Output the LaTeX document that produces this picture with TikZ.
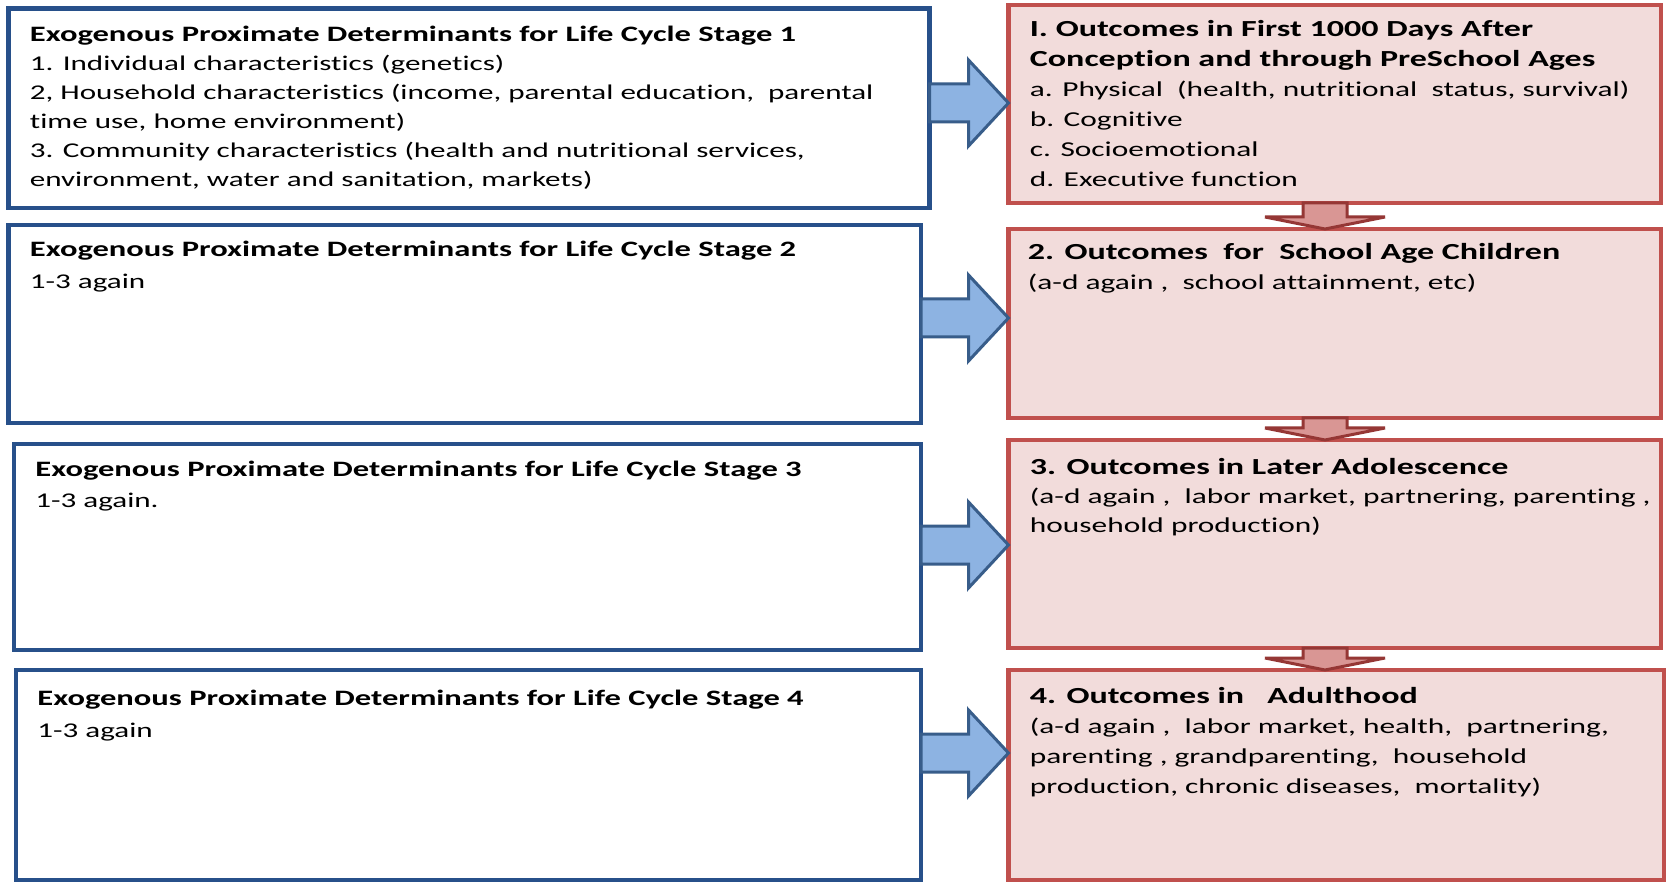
\documentclass[tikz,border=0pt]{standalone}
\usepackage{fontspec}
\setmainfont{Carlito}[FakeStretch=1.48, Ligatures=NoCommon]
\usetikzlibrary{calc,positioning}

\definecolor{detline}{HTML}{27508A}
\definecolor{feedline}{HTML}{385D8A}
\definecolor{feedfill}{HTML}{8DB3E2}
\definecolor{outline}{HTML}{C0504D}
\definecolor{outfill}{HTML}{F2DCDB}
\definecolor{stageline}{HTML}{953735}
\definecolor{stagefill}{HTML}{D99694}

% box text: first row sits on the node's base line
\newcommand{\boxlines}[1]{\begin{tabular}[t]{@{}l@{}}#1\end{tabular}}
\newcommand{\dethead}[1]{{\bfseries\fontsize{11}{14}\selectfont #1}}
\newcommand{\outhead}[1]{{\bfseries\fontsize{11.5}{14}\selectfont #1}}

\begin{document}
\begin{tikzpicture}[x=0.5pt, y=-0.5pt,
    detbox/.style={rectangle, draw=detline, line width=2.2pt, fill=white, inner sep=0pt, outer sep=0pt},
    outbox/.style={rectangle, draw=outline, line width=2.4pt, fill=outfill, inner sep=0pt, outer sep=0pt},
    dettext/.style={anchor=base west, inner sep=0pt, font=\fontsize{10.5}{14.5}\selectfont},
    outtext/.style={anchor=base west, inner sep=0pt, font=\fontsize{10.6}{15}\selectfont},
    feedarrow/.style={draw=feedline, line width=1.5pt, fill=feedfill, line join=miter,
        to path={($(\tikztostart)+(0,-19)$) -- ($(\tikztotarget)+(-40,-19)$) -- ($(\tikztotarget)+(-40,-43)$)
            -- (\tikztotarget) -- ($(\tikztotarget)+(-40,43)$) -- ($(\tikztotarget)+(-40,19)$)
            -- ($(\tikztostart)+(0,19)$) -- cycle}},
    stagearrow/.style={draw=stageline, line width=1.5pt, fill=stagefill, line join=miter,
        to path={($(\tikztostart)+(-22,0)$) -- ($(\tikztotarget)+(-22,-12)$) -- ($(\tikztotarget)+(-60,-12)$)
            -- (\tikztotarget) -- ($(\tikztotarget)+(60,-12)$) -- ($(\tikztotarget)+(22,-12)$)
            -- ($(\tikztostart)+(22,0)$) -- cycle}}]

    \useasboundingbox[fill=white] (0,0) rectangle (1667,882);

    % determinants, one box per life cycle stage
    \node[detbox, minimum width=460.5pt, minimum height=99.75pt] (det1) at (469,108.25) {};
    \node[detbox, minimum width=456.25pt, minimum height=99pt] (det2) at (464.75,324) {};
    \node[detbox, minimum width=453.5pt, minimum height=103pt] (det3) at (467.5,547) {};
    \node[detbox, minimum width=452.5pt, minimum height=105pt] (det4) at (468.5,775) {};

    % outcomes
    \node[outbox, minimum width=326.25pt, minimum height=99pt] (out1) at (1334.75,104) {};
    \node[outbox, minimum width=326.25pt, minimum height=94.5pt] (out2) at (1334.75,323.5) {};
    \node[outbox, minimum width=326.25pt, minimum height=104pt] (out3) at (1334.75,544) {};
    \node[outbox, minimum width=327.75pt, minimum height=105pt] (out4) at (1336.25,775) {};

    \node[dettext] (det1txt) at ($(det1.north west)+(21,33)$) {\boxlines{\dethead{Exogenous Proximate Determinants for Life Cycle Stage 1}\\
        1. Individual characteristics (genetics)\\
        2, Household characteristics (income, parental education,\ \ parental\\
        time use, home environment)\\
        3. Community characteristics (health and nutritional services,\\
        environment, water and sanitation, markets)}};
    \node[dettext, font=\fontsize{10.5}{16}\selectfont] (det2txt) at ($(det2.north west)+(21,32)$) {\boxlines{\dethead{Exogenous Proximate Determinants for Life Cycle Stage 2}\\ 1-3 again}};
    \node[dettext, font=\fontsize{10.5}{15.5}\selectfont] (det3txt) at ($(det3.north west)+(21,33)$) {\boxlines{\dethead{Exogenous Proximate Determinants for Life Cycle Stage 3}\\ 1-3 again.}};
    \node[dettext, font=\fontsize{10.5}{16}\selectfont] (det4txt) at ($(det4.north west)+(21,35)$) {\boxlines{\dethead{Exogenous Proximate Determinants for Life Cycle Stage 4}\\ 1-3 again}};

    \node[outtext] (out1txt) at ($(out1.north west)+(21,32)$) {\boxlines{\outhead{I. Outcomes in First 1000 Days After}\\
        \outhead{Conception and through PreSchool Ages}\\
        a. Physical\ \ (health, nutritional\ \ status, survival)\\
        b. Cognitive\\
        c. Socioemotional\\
        d. Executive function}};
    \node[outtext] (out2txt) at ($(out2.north west)+(19,31)$) {\boxlines{\outhead{2. Outcomes\ \ for\ \ School Age Children}\\
        (a-d again ,\ \ school attainment, etc)}};
    \node[outtext, font=\fontsize{10.6}{14.5}\selectfont] (out3txt) at ($(out3.north west)+(21,34)$) {\boxlines{\outhead{3. Outcomes in Later Adolescence}\\
        (a-d again ,\ \ labor market, partnering, parenting ,\\
        household production)}};
    \node[outtext] (out4txt) at ($(out4.north west)+(21,33)$) {\boxlines{\outhead{4. Outcomes in\ \ \ Adulthood}\\
        (a-d again ,\ \ labor market, health,\ \ partnering,\\
        parenting , grandparenting,\ \ household\\
        production, chronic diseases,\ \ mortality)}};

    % levels of the block arrows
    \coordinate (lvl1) at (0,103);
    \coordinate (lvl2) at (0,318);
    \coordinate (lvl3) at (0,545);
    \coordinate (lvl4) at (0,753);
    \coordinate (col) at (1325,0);

    \draw[feedarrow] (det1.east |- lvl1) to (out1.west |- lvl1);
    \draw[feedarrow] (det2.east |- lvl2) to (out2.west |- lvl2);
    \draw[feedarrow] (det3.east |- lvl3) to (out3.west |- lvl3);
    \draw[feedarrow] (det4.east |- lvl4) to (out4.west |- lvl4);

    \draw[stagearrow] (out1.south -| col) to (out2.north -| col);
    \draw[stagearrow] (out2.south -| col) to (out3.north -| col);
    \draw[stagearrow] (out3.south -| col) to (out4.north -| col);
\end{tikzpicture}
\end{document}
